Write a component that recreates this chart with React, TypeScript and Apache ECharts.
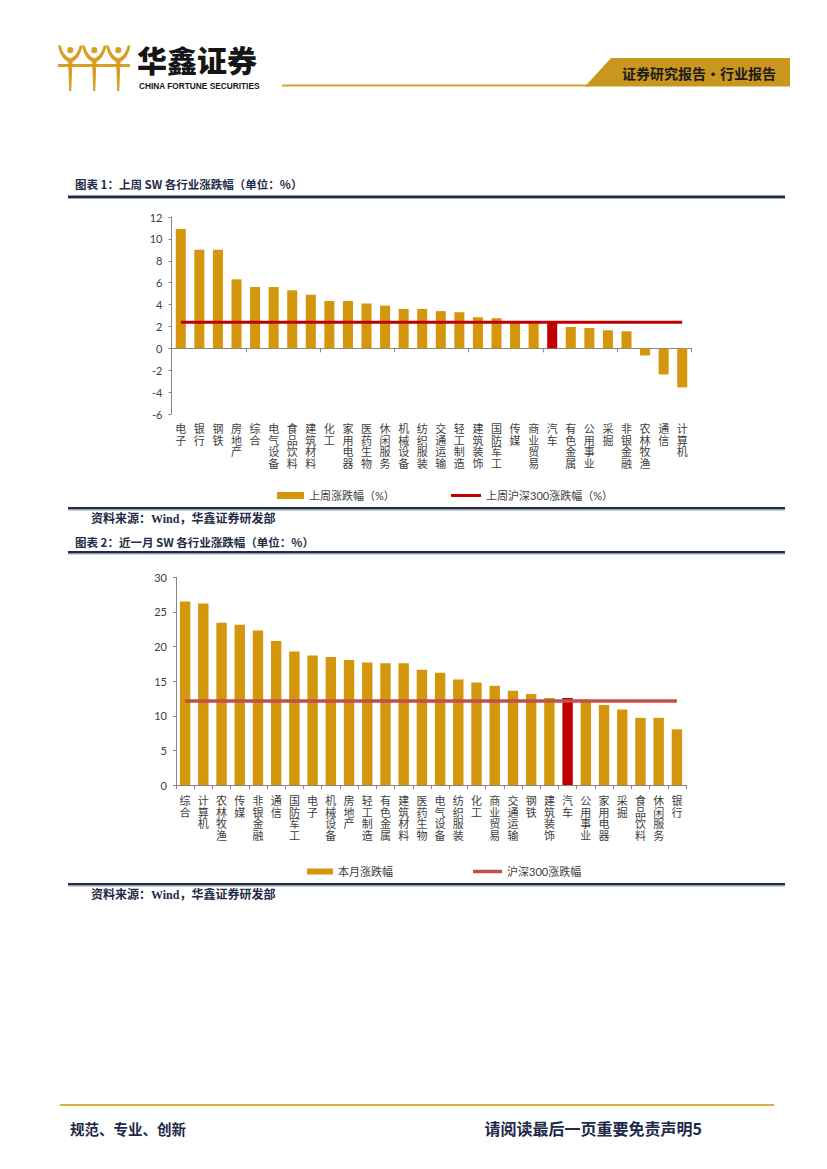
import React, { useEffect, useRef } from "react";
import * as echarts from "echarts";

// ---------- data ----------
const weekCategories = [
  "电子", "银行", "钢铁", "房地产", "综合", "电气设备", "食品饮料", "建筑材料",
  "化工", "家用电器", "医药生物", "休闲服务", "机械设备", "纺织服装", "交通运输",
  "轻工制造", "建筑装饰", "国防军工", "传媒", "商业贸易", "汽车", "有色金属",
  "公用事业", "采掘", "非银金融", "农林牧渔", "通信", "计算机",
];
const weekChange = [
  10.9, 9.0, 9.0, 6.3, 5.6, 5.6, 5.3, 4.9, 4.33, 4.33, 4.1, 3.9, 3.6, 3.6, 3.4,
  3.3, 2.84, 2.75, 2.5, 2.45, 2.32, 1.95, 1.86, 1.65, 1.56, -0.65, -2.38, -3.57,
];
const weekHs300 = 2.38;

const monthCategories = [
  "综合", "计算机", "农林牧渔", "传媒", "非银金融", "通信", "国防军工", "电子",
  "机械设备", "房地产", "轻工制造", "有色金属", "建筑材料", "医药生物", "电气设备",
  "纺织服装", "化工", "商业贸易", "交通运输", "钢铁", "建筑装饰", "汽车", "公用事业",
  "家用电器", "采掘", "食品饮料", "休闲服务", "银行",
];
const monthChange = [
  26.5, 26.2, 23.45, 23.15, 22.3, 20.8, 19.3, 18.7, 18.5, 18.05, 17.7, 17.6, 17.6,
  16.65, 16.2, 15.25, 14.8, 14.35, 13.6, 13.15, 12.55, 12.55, 12.3, 11.55, 10.9,
  9.7, 9.7, 8.05,
];
const monthHs300 = 12.13;

const highlightCategory = "汽车";

const weekBarName = "上周涨跌幅（%）";
const weekLineName = "上周沪深300涨跌幅（%）";
const monthBarName = "本月涨跌幅";
const monthLineName = "沪深300涨跌幅";

// ---------- styles ----------
const GOLD = "#D4960C";
const RED = "#C00000";
const RED2 = "#C0504D";
const AXIS = "#868686";
const LABEL = "#404040";
const NAVY = "#1F2B47";
const CJK = '"Noto Sans CJK SC"';
const NUM = 'Lato, "Noto Sans CJK SC"';

const FIGURE_D =
  "M1 3 C2 11 6 17 11 20 L11 22 L12 48 L14 48 L15 22 L15 20 C20 17 24 11 25 3 L22 4 C21 10 17 15 13 16 C9 15 5 10 4 4 Z M10 8 a3 3 0 1 0 6 0 a3 3 0 1 0 -6 0 Z";

let registered = false;
function ensureShapes() {
  if (registered) return;
  echarts.graphic.registerShape("hxFigure", echarts.graphic.extendPath(FIGURE_D, {}));
  registered = true;
}

function txt(text: string, x: number, y: number, o: any = {}) {
  const align = o.align || "left";
  return {
    type: "text",
    silent: true,
    style: {
      text,
      x,
      y,
      fill: o.fill || NAVY,
      fontSize: o.fontSize || 12,
      fontWeight: o.fontWeight || "bold",
      fontFamily: o.fontFamily || CJK,
      align,
      textAlign: align,
      verticalAlign: "middle",
      textVerticalAlign: "middle",
    },
  };
}

function rule(y: number) {
  return [
    { type: "rect", silent: true, shape: { x: 68, y, width: 717, height: 2.5 }, style: { fill: NAVY } },
    { type: "rect", silent: true, shape: { x: 68, y: y + 2.5, width: 717, height: 1 }, style: { fill: "#9AA3B5" } },
  ];
}

const verticalLabel = (v: string) => v.split("").join("\n");

function buildOption() {
  const catLabel = {
    show: true,
    interval: 0,
    rotate: 0,
    formatter: verticalLabel,
    fontSize: 11,
    lineHeight: 11.7,
    fontFamily: CJK,
    color: LABEL,
    verticalAlign: "top",
    align: "center",
  };
  const valueLabel = { fontSize: 11, fontFamily: NUM, color: LABEL, margin: 9 };
  const legendText = { fontSize: 11, fontFamily: NUM, color: LABEL };

  const graphic: any[] = [];
  // header logo
  [57, 81, 105].forEach((x) => {
    graphic.push({ type: "hxFigure", x, y: 42, scaleX: 1.02, scaleY: 1.02, silent: true, style: { fill: "#D6A024" } });
  });
  graphic.push({ type: "rect", silent: true, shape: { x: 58, y: 64, width: 72, height: 3 }, style: { fill: "#D6A024" } });
  graphic.push(txt("华鑫证券", 137, 59, { fontSize: 30, fill: "#151515", fontWeight: 900 }));
  graphic.push(
    txt("CHINA FORTUNE SECURITIES", 139, 85.5, { fontSize: 8.3, fill: "#151515", fontFamily: '"Liberation Sans"' })
  );
  graphic.push({ type: "line", silent: true, shape: { x1: 282, y1: 85.5, x2: 590, y2: 85.5 }, style: { stroke: "#D4A52E", lineWidth: 2 } });
  graphic.push({
    type: "polygon",
    silent: true,
    shape: { points: [[585, 86.5], [611, 58], [790, 58], [790, 86.5]] },
    style: { fill: "#C9961E" },
  });
  graphic.push(txt("证券研究报告•行业报告", 699, 73, { fontSize: 14, fill: "#1a1a1a", align: "center" }));

  // chart 1 frame texts
  graphic.push(txt("图表 1：上周 SW 各行业涨跌幅（单位：%）", 75, 184, { fontSize: 11.5 }));
  graphic.push(...rule(195.5));
  graphic.push(...rule(507));
  graphic.push(txt("资料来源：Wind，华鑫证券研发部", 91, 519, { fontSize: 12, fontFamily: '"Liberation Serif", "Noto Sans CJK SC"' }));
  // chart 2 frame texts
  graphic.push(txt("图表 2：近一月 SW 各行业涨跌幅（单位：%）", 75, 542, { fontSize: 11.5 }));
  graphic.push(...rule(551));
  graphic.push(...rule(883));
  graphic.push(txt("资料来源：Wind，华鑫证券研发部", 91, 895, { fontSize: 12, fontFamily: '"Liberation Serif", "Noto Sans CJK SC"' }));
  // footer
  graphic.push({ type: "line", silent: true, shape: { x1: 60, y1: 1105, x2: 774, y2: 1105 }, style: { stroke: "#D8AE48", lineWidth: 2.2 } });
  graphic.push(txt("规范、专业、创新", 70, 1128, { fontSize: 14.5, fill: "#1E2A4A" }));
  graphic.push(txt("请阅读最后一页重要免责声明5", 702, 1128, { fontSize: 16, fill: "#1E2A4A", align: "right" }));

  return {
    animation: false,
    backgroundColor: "#ffffff",
    grid: [
      { left: 171.5, top: 217, width: 520, height: 197, containLabel: false },
      { left: 176, top: 577.3, width: 510, height: 207.7, containLabel: false },
    ],
    legend: [
      {
        data: [{ name: weekBarName, icon: "rect" }],
        left: 277, top: 490, padding: 0, itemWidth: 27, itemHeight: 7,
        textStyle: legendText, selectedMode: false,
      },
      {
        data: [{ name: weekLineName, icon: "path://M0 0H30V3H0Z" }],
        left: 451, top: 490, padding: 0, itemWidth: 30, itemHeight: 7,
        textStyle: legendText, selectedMode: false,
      },
      {
        data: [{ name: monthBarName, icon: "rect" }],
        left: 307, top: 866, padding: 0, itemWidth: 26, itemHeight: 6,
        textStyle: legendText, selectedMode: false,
      },
      {
        data: [{ name: monthLineName, icon: "path://M0 0H29V3.5H0Z" }],
        left: 473, top: 866, padding: 0, itemWidth: 29, itemHeight: 7,
        textStyle: legendText, selectedMode: false,
      },
    ],
    xAxis: [
      {
        gridIndex: 0,
        type: "category",
        data: weekCategories,
        position: "bottom",
        axisLine: { show: true, onZero: true, lineStyle: { color: AXIS, width: 1 } },
        axisTick: { show: true, length: 4, lineStyle: { color: AXIS } },
        axisLabel: { show: false },
        splitLine: { show: false },
      },
      {
        gridIndex: 0,
        type: "category",
        data: weekCategories,
        position: "bottom",
        axisLine: { show: false, onZero: false },
        axisTick: { show: false },
        axisLabel: { ...catLabel, margin: 8 },
        splitLine: { show: false },
      },
      {
        gridIndex: 1,
        type: "category",
        data: monthCategories,
        position: "bottom",
        axisLine: { show: true, lineStyle: { color: AXIS, width: 1 } },
        axisTick: { show: true, length: 4, lineStyle: { color: AXIS } },
        axisLabel: { ...catLabel, margin: 9 },
        splitLine: { show: false },
      },
    ],
    yAxis: [
      {
        gridIndex: 0,
        type: "value",
        min: -6,
        max: 12,
        interval: 2,
        axisLine: { show: true, lineStyle: { color: AXIS } },
        axisTick: { show: true, length: 3, lineStyle: { color: AXIS } },
        axisLabel: valueLabel,
        splitLine: { show: false },
      },
      {
        gridIndex: 1,
        type: "value",
        min: 0,
        max: 30,
        interval: 5,
        axisLine: { show: true, lineStyle: { color: AXIS } },
        axisTick: { show: true, length: 3, lineStyle: { color: AXIS } },
        axisLabel: valueLabel,
        splitLine: { show: false },
      },
    ],
    series: [
      {
        name: weekBarName,
        type: "bar",
        xAxisIndex: 0,
        yAxisIndex: 0,
        barWidth: "54%",
        color: GOLD,
        data: weekChange.map((v, i) =>
          weekCategories[i] === highlightCategory ? { value: v, itemStyle: { color: RED } } : v
        ),
      },
      {
        name: weekLineName,
        type: "line",
        xAxisIndex: 0,
        yAxisIndex: 0,
        symbol: "none",
        color: RED,
        lineStyle: { color: RED, width: 3 },
        z: 5,
        data: weekCategories.map(() => weekHs300),
      },
      {
        name: monthBarName,
        type: "bar",
        xAxisIndex: 2,
        yAxisIndex: 1,
        barWidth: "57%",
        color: GOLD,
        data: monthChange.map((v, i) =>
          monthCategories[i] === highlightCategory ? { value: v, itemStyle: { color: RED } } : v
        ),
      },
      {
        name: monthLineName,
        type: "line",
        xAxisIndex: 2,
        yAxisIndex: 1,
        symbol: "none",
        color: RED2,
        lineStyle: { color: RED2, width: 3.5 },
        z: 5,
        data: monthCategories.map(() => monthHs300),
      },
    ],
    graphic,
  };
}

export default function App() {
  const ref = useRef<HTMLDivElement>(null);
  useEffect(() => {
    if (!ref.current) return;
    ensureShapes();
    const chart = echarts.init(ref.current, null, { renderer: "svg", width: 827, height: 1169 });
    chart.setOption(buildOption() as any);
    return () => chart.dispose();
  }, []);
  return (
    <div
      ref={ref}
      style={{ position: "absolute", left: 0, top: 0, width: 827, height: 1169, background: "#fff" }}
    />
  );
}
